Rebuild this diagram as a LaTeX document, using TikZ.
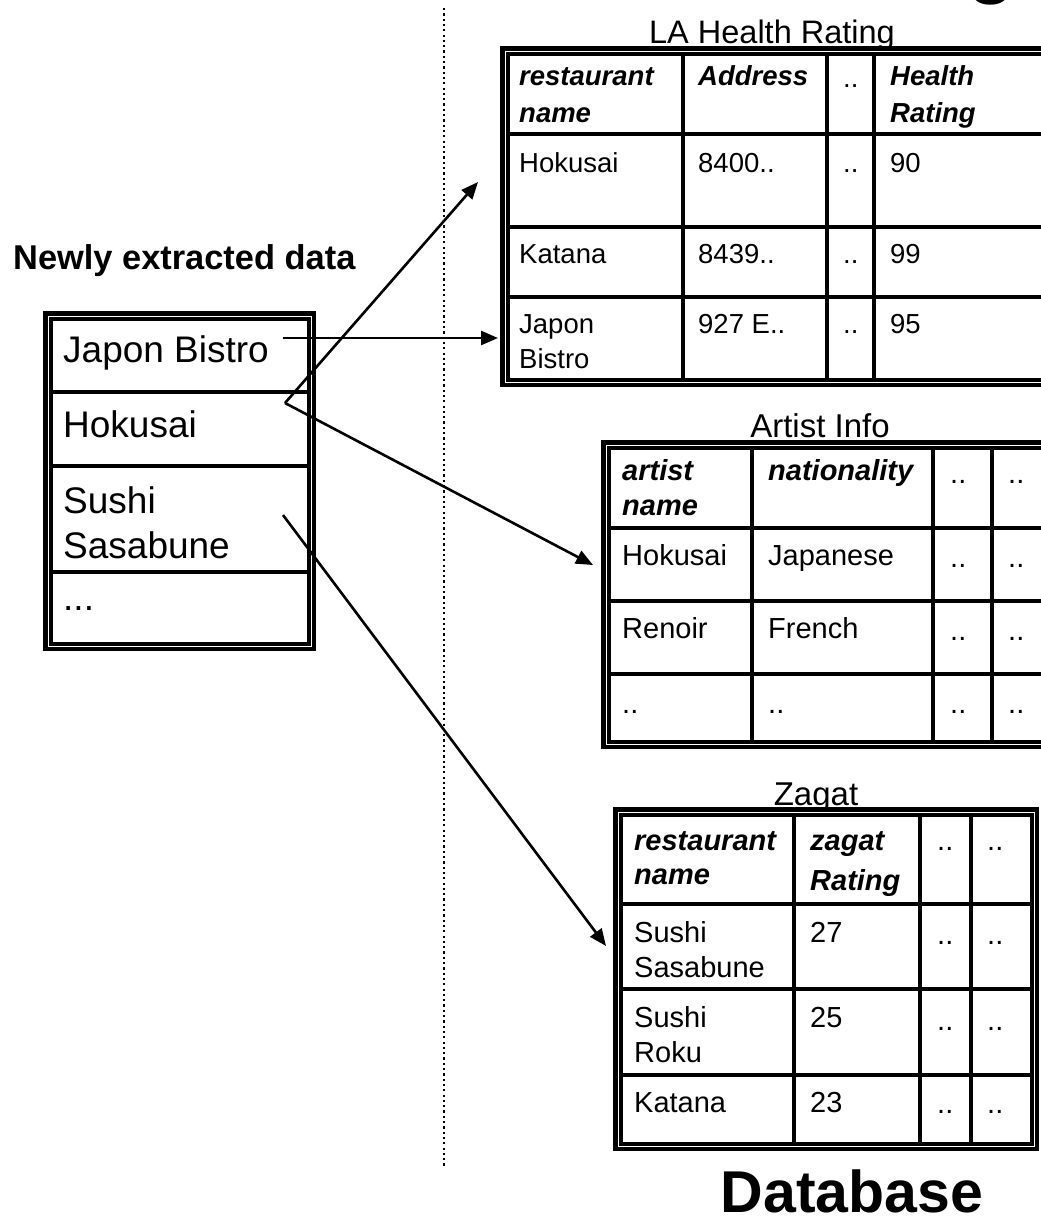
\documentclass[tikz,border=0pt]{standalone}
\usepackage{fontspec}
\setmainfont{Liberation Sans}
\usetikzlibrary{arrows.meta}

% Framed table: white body, heavy outer rule and a second rule just inside it
\newcommand\tblframe[4]{%
  \fill[white] (#1,#2) rectangle (#3,#4);
  \draw[line width=4.5pt] ({#1+2.25},{#2+2.25}) rectangle ({#3-2.25},{#4-2.25});
  \draw[line width=4pt] ({#1+7.5},{#2+7.5}) rectangle ({#3-7.5},{#4-7.5});}

\begin{document}
\begin{tikzpicture}[x=1pt,y=-1pt,
  txt/.style={anchor=base west, inner sep=0pt},
  la/.style={txt, font=\fontsize{27.5}{33}\selectfont},
  lah/.style={txt, font=\fontsize{27.5}{33}\selectfont\bfseries\itshape},
  tb/.style={txt, font=\fontsize{29}{35}\selectfont},
  tbh/.style={txt, font=\fontsize{29}{35}\selectfont\bfseries\itshape},
  big/.style={txt, font=\fontsize{37}{44}\selectfont},
  title/.style={anchor=base, inner sep=0pt, font=\fontsize{33}{40}\selectfont},
  gridline/.style={line width=4pt},
  link/.style={line width=2.6pt, -{Triangle[length=17pt,width=14pt]}},
]
\useasboundingbox (0,0) rectangle (1041,1224);

% large heading glyph running off the top edge
\node[txt, font=\fontsize{90}{100}\selectfont] (headg) at (966,-14) {g};

% separator between extracted data and the database
\draw[line width=2.2pt, dash pattern=on 2.2pt off 3.1pt] (444,8) -- (444,1167);

% ---------- newly extracted data ----------
\node[txt, font=\fontsize{34.4}{41}\selectfont\bfseries] (newlbl) at (13,269) {Newly extracted data};
\tblframe{43}{311}{316}{651}
\foreach \y in {392,466,572} \draw[gridline] (50,\y) -- (309,\y);
\node[big] (n-jb) at (63,362) {Japon Bistro};
\node[big] (n-hk) at (63,437) {Hokusai};
\node[big] (n-ss1) at (63,513) {Sushi};
\node[big] (n-ss2) at (63,558) {Sasabune};
\node[big] (n-more) at (63,610) {...};

% ---------- LA Health Rating ----------
\node[title, font=\fontsize{32.5}{40}\selectfont] (t-la) at (772,43) {LA Health Rating};
\tblframe{500}{46}{1075}{387}
\foreach \x in {683,827,874} \draw[gridline] (\x,53) -- (\x,380);
\foreach \y in {134,227,297} \draw[gridline] (507,\y) -- (1068,\y);
\node[lah] (la-h1a) at (519,85) {restaurant};
\node[lah] (la-h1b) at (519,122) {name};
\node[lah] (la-h2) at (698,85) {Address};
\node[la]  (la-h3) at (843,87) {..};
\node[lah] (la-h4a) at (890,85) {Health};
\node[lah] (la-h4b) at (890,122) {Rating};
\node[la] (la-11) at (519,172) {Hokusai};
\node[la] (la-12) at (698,172) {8400..};
\node[la] (la-13) at (843,172) {..};
\node[la] (la-14) at (890,172) {90};
\node[la] (la-21) at (519,263) {Katana};
\node[la] (la-22) at (698,263) {8439..};
\node[la] (la-23) at (843,263) {..};
\node[la] (la-24) at (890,263) {99};
\node[la] (la-31a) at (519,333) {Japon};
\node[la] (la-31b) at (519,368) {Bistro};
\node[la] (la-32) at (698,333) {927 E..};
\node[la] (la-33) at (843,333) {..};
\node[la] (la-34) at (890,333) {95};

% ---------- Artist Info ----------
\node[title] (t-ai) at (820,437) {Artist Info};
\tblframe{601}{440}{1075}{749}
\foreach \x in {752,933,992} \draw[gridline] (\x,447) -- (\x,742);
\foreach \y in {528,601,674} \draw[gridline] (608,\y) -- (1068,\y);
\node[tbh] (ai-h1a) at (622,480) {artist};
\node[tbh] (ai-h1b) at (622,515) {name};
\node[tbh] (ai-h2) at (768,480) {nationality};
\node[tb] (ai-h3) at (950,483) {..};
\node[tb] (ai-h4) at (1008,483) {..};
\node[tb] (ai-11) at (622,565) {Hokusai};
\node[tb] (ai-12) at (768,565) {Japanese};
\node[tb] (ai-13) at (950,567) {..};
\node[tb] (ai-14) at (1008,567) {..};
\node[tb] (ai-21) at (622,638) {Renoir};
\node[tb] (ai-22) at (768,638) {French};
\node[tb] (ai-23) at (950,640) {..};
\node[tb] (ai-24) at (1008,640) {..};
\node[tb] (ai-31) at (622,713) {..};
\node[tb] (ai-32) at (768,713) {..};
\node[tb] (ai-33) at (950,713) {..};
\node[tb] (ai-34) at (1008,713) {..};

% ---------- Zagat ----------
\node[title] (t-zg) at (816,805) {Zagat};
\tblframe{613}{807}{1039}{1151}
\foreach \x in {794,920,971} \draw[gridline] (\x,814) -- (\x,1144);
\foreach \y in {904,989,1075} \draw[gridline] (620,\y) -- (1032,\y);
\node[tbh] (zg-h1a) at (634,850) {restaurant};
\node[tbh] (zg-h1b) at (634,884) {name};
\node[tbh] (zg-h2a) at (810,850) {zagat};
\node[tbh] (zg-h2b) at (810,890) {Rating};
\node[tb] (zg-h3) at (937,850) {..};
\node[tb] (zg-h4) at (987,850) {..};
\node[tb] (zg-11a) at (634,942) {Sushi};
\node[tb] (zg-11b) at (634,977) {Sasabune};
\node[tb] (zg-12) at (810,942) {27};
\node[tb] (zg-13) at (937,944) {..};
\node[tb] (zg-14) at (987,944) {..};
\node[tb] (zg-21a) at (634,1027) {Sushi};
\node[tb] (zg-21b) at (634,1062) {Roku};
\node[tb] (zg-22) at (810,1027) {25};
\node[tb] (zg-23) at (937,1030) {..};
\node[tb] (zg-24) at (987,1030) {..};
\node[tb] (zg-31) at (634,1112) {Katana};
\node[tb] (zg-32) at (810,1112) {23};
\node[tb] (zg-33) at (937,1113) {..};
\node[tb] (zg-34) at (987,1113) {..};

\node[anchor=base, inner sep=0pt, font=\fontsize{59}{70}\selectfont\bfseries] (dblbl) at (852,1212) {Database};

% ---------- matches ----------
\coordinate (src-jb) at (283,338);
\coordinate (src-hk) at (285,403);
\coordinate (src-ss) at (283,515);
\coordinate (dst-la-jb) at (498,338);
\coordinate (dst-la-hk) at (478,182);
\coordinate (dst-ai-hk) at (593,565);
\coordinate (dst-zg-ss) at (606,946);
\draw[link] (src-jb) -- (dst-la-jb);
\draw[link] (src-hk) -- (dst-la-hk);
\draw[link] (src-hk) -- (dst-ai-hk);
\draw[link] (src-ss) -- (dst-zg-ss);
\end{tikzpicture}
\end{document}
